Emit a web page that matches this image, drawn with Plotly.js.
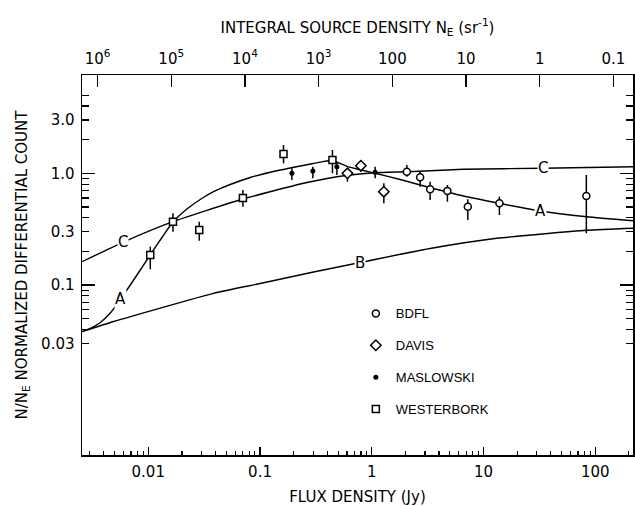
<!DOCTYPE html>
<html><head><meta charset="utf-8">
<script src="https://cdn.plot.ly/plotly-3.0.1.min.js"></script>
<style>html,body{margin:0;padding:0;background:#fff}</style>
</head><body><div id="chart" style="width:635px;height:506px"></div>
<script>
// Model curves (flux density S in Jy, normalized differential count)
const curveA_S = [0.002553,0.003027,0.003724,0.004571,0.005617,0.006902,0.008484,0.01042,0.01326,0.01663,0.02219,0.02918,0.03838,0.05413,0.08173,0.1234,0.1862,0.299,0.4422,0.5988,0.8431,1.072,1.795,2.71,6.61,13.88,32.08,83.95,217.8];
const curveA_V = [0.0382,0.0408,0.0462,0.0561,0.0741,0.100,0.1362,0.1856,0.2662,0.3664,0.479,0.5825,0.6844,0.7938,0.9171,1.021,1.115,1.224,1.302,1.155,1.059,1.0,0.88,0.786,0.626,0.539,0.4598,0.4088,0.3764];
const curveB_S = [0.002553,0.004893,0.03838,0.1004,0.301,0.7873,3.33,13.15,83.95,217.8];
const curveB_V = [0.0382,0.04712,0.08425,0.1031,0.1307,0.159,0.2122,0.2618,0.3089,0.3218];
const curveC_S = [0.002553,0.005937,0.01663,0.07031,0.2449,0.4874,1.072,2.086,6.61,33.91,217.8];
const curveC_V = [0.1616,0.2411,0.3687,0.5887,0.8137,0.9323,1.012,1.033,1.086,1.109,1.146];
const curveLabels = [
  {t:'C', s:0.00594, v:0.241}, {t:'C', s:33.9, v:1.109},
  {t:'A', s:0.00562, v:0.0745}, {t:'A', s:32.1, v:0.46},
  {t:'B', s:0.787, v:0.156}
];

// Observations: value, upper and lower end of error bar
const bdfl_S  = [2.061,2.71,3.33,4.755,7.237,13.88,83.25];
const bdfl_V  = [1.033,0.921,0.7191,0.6943,0.5023,0.539,0.626];
const bdfl_hi = [1.187,1.033,0.841,0.786,0.585,0.6172,0.9656];
const bdfl_lo = [0.9323,0.7586,0.5768,0.5567,0.382,0.4232,0.2903];

const davis_S  = [0.6061,0.799,1.283];
const davis_V  = [1.0,1.17,0.6844];
const davis_hi = [1.109,1.315,0.8137];
const davis_lo = [0.841,1.033,0.5388];

const masl_S  = [0.1929,0.2972,0.4874,1.072];
const masl_V  = [1.0,1.049,1.146,1.021];
const masl_hi = [1.109,1.146,1.27,1.146];
const masl_lo = [0.871,0.902,0.9656,0.902];

const west_S  = [0.01042,0.01663,0.02859,0.07031,0.1623,0.445];
const west_V  = [0.1856,0.3687,0.3107,0.601,1.489,1.315];
const west_hi = [0.2203,0.4385,0.3687,0.7087,1.792,1.617];
const west_lo = [0.1382,0.3,0.2492,0.5023,1.229,1.0];

const xTickVals = [0.01,0.1,1,10,100];
const xTickText = ['0.01','0.1','1','10','100'];
const yTickVals = [0.03,0.1,0.3,1,3];
const yTickText = ['0.03','0.1','0.3','1.0','3.0'];
const yMinorVals = [0.04,0.05,0.06,0.07,0.08,0.09,0.2,0.4,0.5,0.6,0.7,0.8,0.9,2,4,5];
const nTickVals = [1e6,1e5,1e4,1e3,100,10,1,0.1];
const nTickText = ['10<sup>6</sup>','10<sup>5</sup>','10<sup>4</sup>','10<sup>3</sup>','100','10','1','0.1'];

const FONT = 'DejaVu Sans, sans-serif';
const xMinor = [];
for (let d = -3; d <= 2; d++) for (let k = 2; k <= 9; k++) xMinor.push(k * Math.pow(10, d));

function curve(S, V) {
  return {x:S, y:V, type:'scatter', mode:'lines', showlegend:false, hoverinfo:'skip',
    line:{color:'#000', width:1.4, shape:'spline', smoothing:0.5}};
}
function obs(name, S, V, hi, lo, marker, grp) {
  return {x:S, y:V, type:'scatter', mode:'markers', name:name, legendgroup:grp,
    marker:marker,
    error_y:{type:'data', symmetric:false,
      array:hi.map((h,i)=>h-V[i]), arrayminus:lo.map((l,i)=>V[i]-l),
      color:'#000', thickness:1.5, width:0}};
}

const data = [
  // empty traces so that the top (N_E) axis and the long-tick overlay are drawn
  {x:[], y:[], xaxis:'x2', yaxis:'y', type:'scatter', mode:'markers', showlegend:false, hoverinfo:'skip'},
  {x:[], y:[], xaxis:'x', yaxis:'y2', type:'scatter', mode:'markers', showlegend:false, hoverinfo:'skip'},
  curve(curveA_S, curveA_V), curve(curveB_S, curveB_V), curve(curveC_S, curveC_V),
  obs('BDFL', bdfl_S, bdfl_V, bdfl_hi, bdfl_lo, {symbol:'circle', size:7, color:'#fff', line:{color:'#000', width:1.5}}, 'g1'),
  obs('DAVIS', davis_S, davis_V, davis_hi, davis_lo, {symbol:'diamond', size:8, color:'#fff', line:{color:'#000', width:1.5}}, 'g2'),
  obs('MASLOWSKI', masl_S, masl_V, masl_hi, masl_lo, {symbol:'circle', size:5, color:'#000', line:{color:'#000', width:0}}, 'g3'),
  obs('WESTERBORK', west_S, west_V, west_hi, west_lo, {symbol:'square', size:7, color:'#fff', line:{color:'#000', width:1.5}}, 'g4')
];

const annotations = curveLabels.map(l => ({
  x:Math.log10(l.s), y:Math.log10(l.v), xref:'x', yref:'y', text:l.t, showarrow:false,
  bgcolor:'#fff', borderpad:0, font:{family:FONT, size:15, color:'#000'}
}));

const layout = {
  width:635, height:506,
  margin:{l:82, r:2, t:75, b:51},
  paper_bgcolor:'#fff', plot_bgcolor:'#fff',
  font:{family:FONT, size:15, color:'#000'},
  showlegend:true,
  legend:{x:0.497, y:0.412, xanchor:'left', yanchor:'top', bgcolor:'rgba(0,0,0,0)',
    font:{family:'Liberation Sans, Arial, sans-serif', size:13, color:'#000'},
    tracegroupgap:12, traceorder:'grouped', itemwidth:30},
  xaxis:{type:'log', range:[-2.593, 2.338], showline:true, linecolor:'#000', linewidth:1.5,
    ticks:'inside', ticklen:8, tickwidth:1.2, tickcolor:'#000',
    tickvals:xTickVals, ticktext:xTickText, showgrid:false, zeroline:false,
    ticklabelstandoff:2,
    minor:{tickvals:xMinor, ticks:'inside', ticklen:4, tickwidth:1.2, tickcolor:'#000', showgrid:false},
    title:{text:'FLUX DENSITY (Jy)', standoff:12, font:{family:FONT, size:15}}},
  xaxis2:{type:'log', overlaying:'x', side:'top', anchor:'y', range:[6.211, -1.265],
    showline:true, linecolor:'#000', linewidth:1.5,
    ticks:'inside', ticklen:12, tickwidth:1.3, tickcolor:'#000',
    tickvals:nTickVals, ticktext:nTickText, showgrid:false, zeroline:false,
    ticklabelstandoff:4,
    title:{text:'INTEGRAL SOURCE DENSITY N<sub>E</sub> (sr<sup>-1</sup>)', standoff:10, font:{family:FONT, size:15}}},
  yaxis:{type:'log', range:[-2.522, 0.880], showline:true, linecolor:'#000', linewidth:1.5,
    mirror:'ticks', ticks:'inside', ticklen:7, tickwidth:1.2, tickcolor:'#000',
    tickvals:yTickVals, ticktext:yTickText, showgrid:false, zeroline:false,
    ticklabelstandoff:3,
    minor:{tickvals:yMinorVals, ticks:'inside', ticklen:7, tickwidth:1.2, tickcolor:'#000', showgrid:false},
    title:{text:'N/N<sub>E</sub> NORMALIZED DIFFERENTIAL COUNT', standoff:10, font:{family:FONT, size:15}}},
  yaxis2:{type:'log', overlaying:'y', anchor:'x', range:[-2.522, 0.880], showline:false,
    mirror:'ticks', ticks:'inside', ticklen:13, tickwidth:1.3, tickcolor:'#000',
    tickvals:[0.1,1], showticklabels:false, showgrid:false, zeroline:false},
  annotations:annotations
};

Plotly.newPlot('chart', data, layout, {displayModeBar:false, staticPlot:true});
</script>
</body></html>
